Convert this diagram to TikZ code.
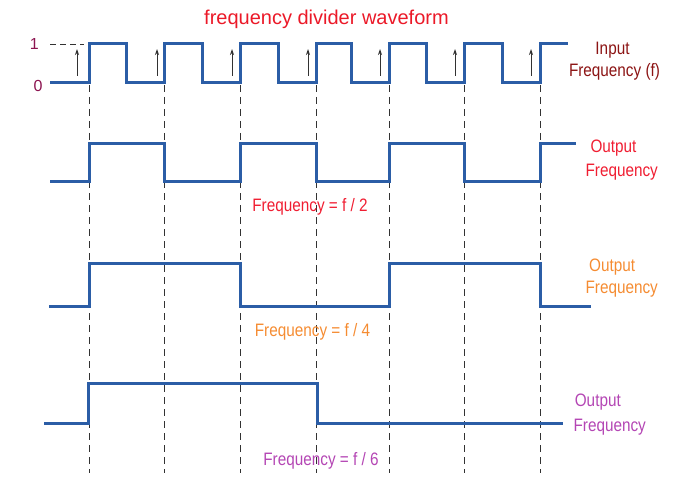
\documentclass[tikz,border=0pt]{standalone}
\usepackage{fontspec}
\setmainfont{Liberation Sans}
\newfontfamily\condfont[FakeStretch=0.85]{Liberation Sans}
\usetikzlibrary{arrows.meta}
\definecolor{wave}{RGB}{43,93,166}
\definecolor{titlered}{RGB}{235,25,40}
\definecolor{redlab}{RGB}{240,30,50}
\definecolor{orangelab}{RGB}{245,140,50}
\definecolor{purplelab}{RGB}{180,70,180}
\definecolor{inlab}{RGB}{140,20,20}
\definecolor{levlab}{RGB}{140,20,80}
\definecolor{guide}{RGB}{50,50,50}
\tikzset{
  wavel/.style={draw=wave,line width=3pt,line join=miter},
  guidel/.style={draw=guide,line width=0.9pt,dash pattern=on 7pt off 5pt},
  clk/.style={draw=guide,line width=0.9pt,-{Stealth[length=6pt,width=4pt]}},
  lab/.style={inner sep=0pt,anchor=base,font=\condfont\fontsize{18}{20}\selectfont},
  lev/.style={inner sep=0pt,anchor=base,font=\fontsize{16}{18}\selectfont,text=levlab}
}
\begin{document}
\begin{tikzpicture}[x=1pt,y=-1pt]
\useasboundingbox (0,0) rectangle (688,500);
% title
\node[inner sep=0pt,anchor=base,font=\fontsize{20}{24}\selectfont,text=titlered] (title) at (326.5,25) {frequency divider waveform};
% level labels
\node[lev] (one) at (34.3,50) {1};
\node[lev] (zero) at (38,91.5) {0};
\draw[guidel,dash pattern=on 6pt off 4pt] (50,44) -- (84,44);
% guides
\foreach \x/\n in {89/a,164/b,240/c,316/d,389/e,464/f,540/g}{
  \coordinate (gt\n) at (\x,85);
  \coordinate (gb\n) at (\x,473);
  \draw[guidel] (gt\n) -- (gb\n);
}
% clock arrows
\foreach \x/\n in {77/a,157/b,232/c,308/d,380/e,455/f,531/g}{
  \coordinate (as\n) at (\x,76);
  \coordinate (ae\n) at (\x,49);
  \draw[clk] (as\n) -- (ae\n);
}
% input waveform
\draw[wavel] (50,82.5) -- (89,82.5) -- (89,44) -- (126,44) -- (126,82.5)
  -- (164,82.5) -- (164,44) -- (202,44) -- (202,82.5)
  -- (240,82.5) -- (240,44) -- (278,44) -- (278,82.5)
  -- (316,82.5) -- (316,44) -- (351,44) -- (351,82.5)
  -- (389,82.5) -- (389,44) -- (426,44) -- (426,82.5)
  -- (464,82.5) -- (464,44) -- (502,44) -- (502,82.5)
  -- (540,82.5) -- (540,44) -- (568,44);
% output f/2
\draw[wavel] (50,181) -- (89,181) -- (89,143.5) -- (164,143.5) -- (164,181)
  -- (240,181) -- (240,143.5) -- (316,143.5) -- (316,181)
  -- (389,181) -- (389,143.5) -- (464,143.5) -- (464,181)
  -- (540,181) -- (540,143.5) -- (576,143.5);
% output f/4
\draw[wavel] (49,306.5) -- (89,306.5) -- (89,263.5) -- (240,263.5) -- (240,306.5)
  -- (389,306.5) -- (389,263.5) -- (540,263.5) -- (540,306.5) -- (591,306.5);
% output f/6
\draw[wavel] (44,423) -- (88,423) -- (88,383.5) -- (317,383.5) -- (317,423) -- (563,423);
% labels
\node[lab,text=inlab] (inA) at (612.5,55) {Input};
\node[lab,text=inlab] (inB) at (614.5,76.5) {Frequency (f)};
\node[lab,text=redlab] (o1A) at (613.5,152.5) {Output};
\node[lab,text=redlab] (o1B) at (621.7,176.5) {Frequency};
\node[lab,text=orangelab] (o2A) at (612.2,271) {Output};
\node[lab,text=orangelab] (o2B) at (621.7,293.5) {Frequency};
\node[lab,text=purplelab] (o3A) at (597.8,406) {Output};
\node[lab,text=purplelab] (o3B) at (609.7,431.5) {Frequency};
\node[lab,text=redlab] (f2) at (310,211) {Frequency = f / 2};
\node[lab,text=orangelab] (f4) at (312.5,336.5) {Frequency = f / 4};
\node[lab,text=purplelab] (f6) at (321,465) {Frequency = f / 6};
\end{tikzpicture}
\end{document}
